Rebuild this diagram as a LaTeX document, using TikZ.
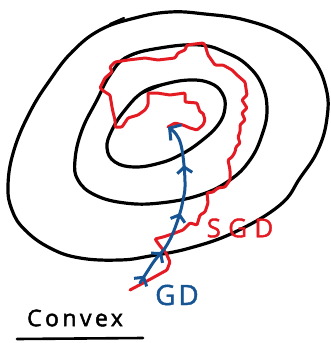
\documentclass[tikz,border=0pt]{standalone}
\usepackage{fontspec}
\setmainfont{Open Sans}
\usetikzlibrary{arrows.meta,decorations.markings}
\definecolor{sgdred}{RGB}{229,27,36}
\definecolor{gdblue}{RGB}{22,84,148}

\begin{document}
\begin{tikzpicture}[x=1pt,y=-1pt,
  level/.style={line width=3.2pt,black},
  penend/.style={line width=2.2pt,black,line cap=round},
  sgd/.style={line width=3pt,sgdred,line join=round,line cap=round,rounded corners=1pt},
  gd/.style={line width=3pt,gdblue,line cap=round,
    -{Straight Barb[length=8pt,width=19pt]},
    postaction={decorate},
    decoration={markings,
      mark=at position .05 with {\arrow{Straight Barb[length=6pt,width=15pt]}},
      mark=at position .22 with {\arrow{Straight Barb[length=6pt,width=15pt]}},
      mark=at position .47 with {\arrow{Straight Barb[length=6pt,width=15pt]}},
      mark=at position .75 with {\arrow{Straight Barb[length=6pt,width=15pt]}}}},
  every node/.append style={inner sep=0pt}]
  \useasboundingbox (0,0) rectangle (331,343);

  \draw[level] plot[smooth cycle,tension=.7] coordinates {(100,30) (135,18) (170,12)
    (205,14) (245,20) (285,35) (312,58) (326,88) (327,118) (318,150) (300,178)
    (280,205) (235,232) (190,248) (150,256) (120,260) (80,258) (50,248) (25,230)
    (12,210) (8,185) (14,150) (30,112) (50,80) (72,52)};
  \draw[level] plot[smooth cycle,tension=.7] coordinates {(127,57) (160,48) (200,45)
    (227,53) (247,65) (262,85) (267,110) (262,135) (250,160) (230,180) (200,195)
    (160,203) (125,203) (95,195) (78,180) (75,160) (82,130) (97,100) (110,75)};
  \draw[level] plot[smooth cycle,tension=.7] coordinates {(143,92) (165,84) (190,80)
    (210,83) (222,93) (225,108) (218,125) (200,142) (180,155) (160,163) (135,167)
    (115,162) (107,148) (112,130) (125,110)};
  \draw[penend] (110,24) -- (124,18);
  \draw[penend] (124,58) -- (146,50);
  \draw[penend] (140,94) -- (162,85);

  \coordinate (opt) at (168,127);
  \coordinate (sgdstart) at (130,290);
  \coordinate (gdstart) at (140,283);

  \draw[sgd] (sgdstart) -- (147,281) -- (167,270) -- (170,262) -- (166,253) -- (160,246)
    -- (155,239) -- (163,237) -- (175,233) -- (183,230) -- (190,223) -- (197,225)
    -- (200,215) -- (205,212) -- (208,203) -- (207,193) -- (213,192) -- (218,188)
    -- (225,187) -- (230,180) -- (230,170) -- (228,160) -- (232,157) -- (235,152)
    -- (236,147) -- (240,143) -- (238,137) -- (240,132) -- (240,125) -- (245,120)
    -- (242,113) -- (247,108) -- (242,100) -- (247,95) -- (245,82) -- (237,75)
    -- (232,70) -- (223,65) -- (215,65) -- (208,55) -- (205,45) -- (203,43)
    -- (187,45) -- (185,50) -- (178,53) -- (175,58) -- (158,60) -- (145,58)
    -- (128,60) -- (115,62) -- (110,67) -- (112,72) -- (105,78) -- (100,88)
    -- (105,92) -- (110,95) -- (112,107) -- (113,112) -- (115,120) -- (115,127)
    -- (122,127) -- (128,118) -- (138,115) -- (145,110) -- (148,105) -- (148,93)
    -- (157,93) -- (170,95) -- (185,93) -- (185,102) -- (197,103) -- (200,112)
    -- (203,113) -- (205,120) -- (203,125) -- (197,130) -- (190,128) -- (183,125)
    -- (175,123) -- (opt);

  \draw[gd] plot[smooth,tension=.6] coordinates {(gdstart) (147,272) (155,260) (165,248)
    (173,233) (180,213) (183,200) (185,187) (184,165) (181,145) (176,134) (opt)};

  \node[sgdred,font=\fontsize{26}{26}\selectfont\addfontfeatures{LetterSpace=28,FakeBold=1.5}]
    (sgdlabel) at (240,228) {SGD};
  \node[gdblue,font=\fontsize{28}{28}\selectfont\addfontfeatures{LetterSpace=10,FakeBold=1.5}]
    (gdlabel) at (177,295) {GD};
  \node[font=\fontsize{23}{23}\selectfont\addfontfeatures{LetterSpace=15,FakeBold=2}]
    (convex) at (75,318) {Convex};
  \draw[line width=2.6pt,line cap=round] (17,339) -- (143,338);
\end{tikzpicture}
\end{document}
